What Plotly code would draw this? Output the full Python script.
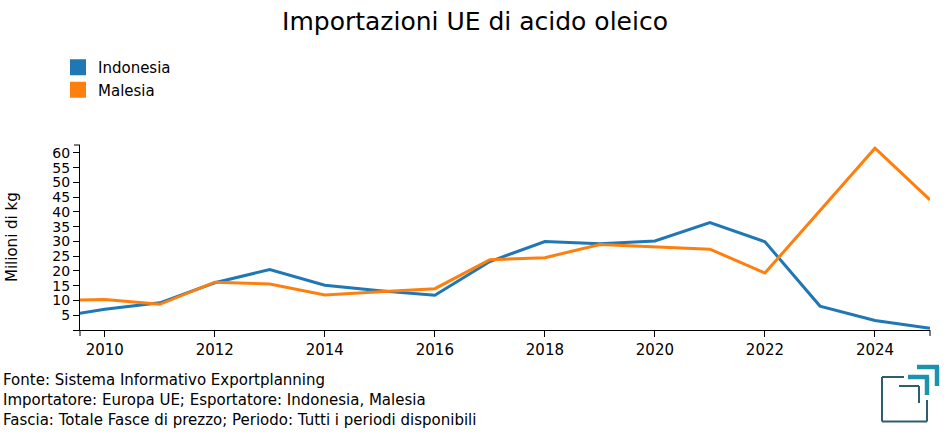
import plotly.graph_objects as go

years = [2009, 2010, 2011, 2012, 2013, 2014, 2015, 2016, 2017, 2018, 2019, 2020, 2021, 2022, 2023, 2024, 2025]
indonesia = [4.0, 7.0, 9.2, 16.0, 20.5, 15.2, 13.3, 11.8, 23.2, 30.0, 29.2, 30.2, 36.4, 29.9, 8.1, 3.2, 0.6]
malesia = [10.1, 10.3, 8.7, 16.2, 15.6, 11.9, 13.0, 14.0, 23.8, 24.5, 29.0, 28.2, 27.4, 19.3, 40.5, 61.6, 44.1]
series_names = ["Indonesia", "Malesia"]
colors = ["#1f77b4", "#ff7f0e"]
ytick_vals = [0, 5, 10, 15, 20, 25, 30, 35, 40, 45, 50, 55, 60]
ytick_text = [""] + [str(v) for v in ytick_vals[1:]]
xtick_vals = [2010, 2012, 2014, 2016, 2018, 2020, 2022, 2024]
footer = [
    "Fonte: Sistema Informativo Exportplanning",
    "Importatore: Europa UE; Esportatore: Indonesia, Malesia",
    "Fascia: Totale Fasce di prezzo; Periodo: Tutti i periodi disponibili",
]

W, H = 950, 435
L, R, T, B = 80, 20, 145, 105
PW, PH = W - L - R, H - T - B


def px(x):
    return (x - L) / PW


def py(y):
    return (H - B - y) / PH


FONT = "DejaVu Sans"
fig = go.Figure()
for name, vals, c in zip(series_names, [indonesia, malesia], colors):
    fig.add_trace(go.Scatter(x=years, y=vals, mode="lines", name=name,
                             line=dict(color=c, width=3), showlegend=False,
                             cliponaxis=True))
for name, c in zip(series_names, colors):
    fig.add_trace(go.Scatter(x=[None], y=[None], mode="markers", name=name,
                             marker=dict(symbol="square", size=16, color=c)))

shapes = []
# outer ticks at ends of axis domain (d3 style)
shapes.append(dict(type="line", xref="paper", yref="paper", x0=0, x1=0, y0=0, y1=py(H - B + 6),
                   line=dict(color="black", width=1)))
shapes.append(dict(type="line", xref="paper", yref="paper", x0=1, x1=1, y0=0, y1=py(H - B + 6),
                   line=dict(color="black", width=1)))
shapes.append(dict(type="line", xref="paper", yref="paper", x0=0, x1=px(L - 6), y0=1, y1=1,
                   line=dict(color="black", width=1)))

# logo
dark = "#2f5d6e"
teal = "#1b93ae"


def seg(x0, y0, x1, y1, c, w):
    shapes.append(dict(type="line", xref="paper", yref="paper", x0=px(x0), y0=py(y0),
                       x1=px(x1), y1=py(y1), line=dict(color=c, width=w)))


seg(882, 377, 904, 377, dark, 2)
seg(882, 377, 882, 421.5, dark, 2)
seg(882, 421.5, 927, 421.5, dark, 2)
seg(927, 400, 927, 421.5, dark, 2)
seg(899, 386, 919, 386, dark, 2)
seg(919, 386, 919, 403, dark, 2)
seg(908, 377, 929, 377, teal, 4.5)
seg(927, 377, 927, 395, teal, 4.5)
seg(917, 367, 939, 367, teal, 4.5)
seg(937, 367, 937, 386, teal, 4.5)

annotations = []
for i, t in enumerate(footer):
    annotations.append(dict(text=t, xref="paper", yref="paper", x=px(1), y=py(380 + 20 * i),
                            xanchor="left", yanchor="middle", showarrow=False,
                            font=dict(family=FONT, size=15, color="black")))
annotations.append(dict(text="Milioni di kg", xref="paper", yref="paper", x=px(12), y=py(237),
                        xanchor="center", yanchor="middle", textangle=-90, showarrow=False,
                        font=dict(family=FONT, size=15, color="black")))

fig.update_layout(
    width=W, height=H,
    margin=dict(l=L, r=R, t=T, b=B),
    paper_bgcolor="white", plot_bgcolor="white",
    title=dict(text="Importazioni UE di acido oleico", x=0.5, xanchor="center",
               y=1 - 21 / H, yanchor="middle", font=dict(family=FONT, size=25, color="black")),
    font=dict(family=FONT, size=15, color="black"),
    showlegend=True,
    legend=dict(x=px(58), y=py(51), xanchor="left", yanchor="top", bgcolor="rgba(0,0,0,0)",
                font=dict(family=FONT, size=15), tracegroupgap=0, itemwidth=30),
    xaxis=dict(range=[2009.55, 2025.0], tickvals=xtick_vals, ticktext=[str(v) for v in xtick_vals],
               showgrid=False, zeroline=False, showline=True, linecolor="black", linewidth=1,
               ticks="outside", ticklen=6, tickcolor="black", tickfont=dict(size=15)),
    yaxis=dict(range=[0, 62.7], tickvals=ytick_vals, ticktext=ytick_text,
               showgrid=False, zeroline=False, showline=True, linecolor="black", linewidth=1,
               ticks="outside", ticklen=6, tickcolor="black", tickfont=dict(size=14)),
    shapes=shapes,
    annotations=annotations,
)

fig.write_html("out.html", post_script="document.body.style.margin='0';",
               config={"displayModeBar": False})
